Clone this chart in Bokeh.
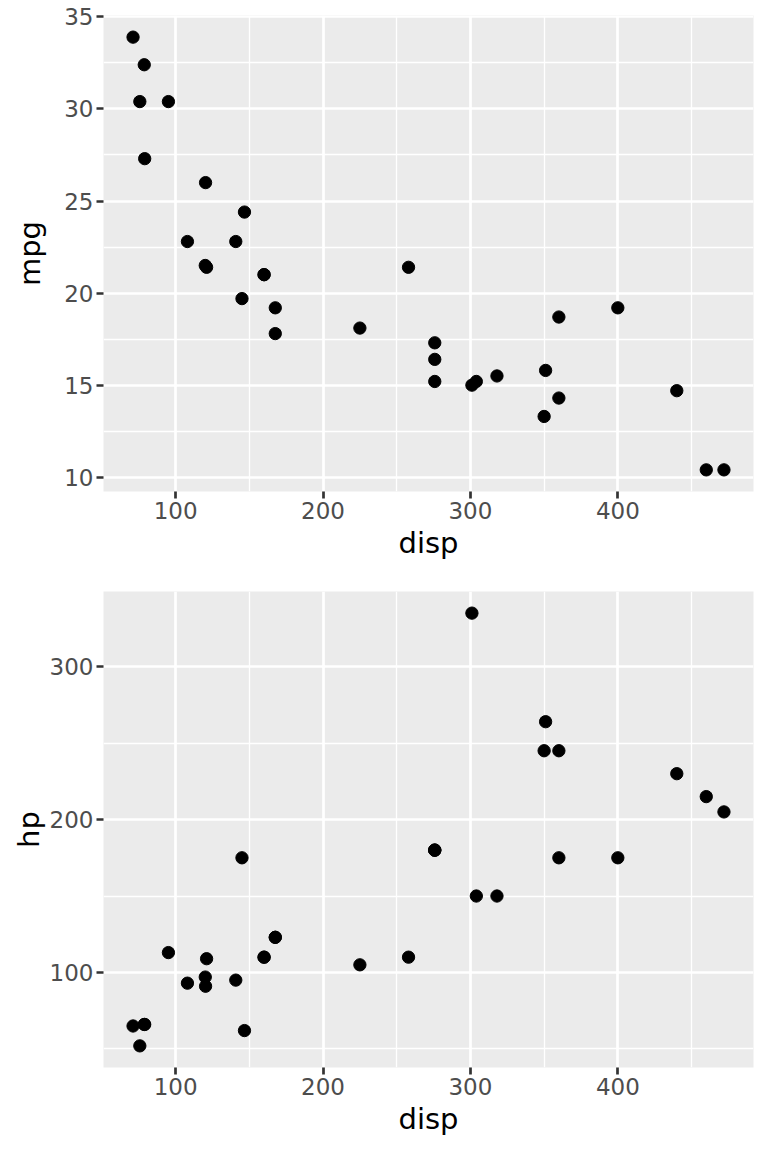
from bokeh.plotting import figure
from bokeh.layouts import column
from bokeh.models import Range1d, FixedTicker
from bokeh.embed import file_html
from bokeh.resources import INLINE

# mtcars columns
disp = [160, 160, 108, 258, 360, 225, 360, 146.7, 140.8, 167.6, 167.6, 275.8,
        275.8, 275.8, 472, 460, 440, 78.7, 75.7, 71.1, 120.1, 318, 304, 350,
        400, 79, 120.3, 95.1, 351, 145, 301, 121]
mpg = [21, 21, 22.8, 21.4, 18.7, 18.1, 14.3, 24.4, 22.8, 19.2, 17.8, 16.4,
       17.3, 15.2, 10.4, 10.4, 14.7, 32.4, 30.4, 33.9, 21.5, 15.5, 15.2, 13.3,
       19.2, 27.3, 26, 30.4, 15.8, 19.7, 15, 21.4]
hp = [110, 110, 93, 110, 175, 105, 245, 62, 95, 123, 123, 180, 180, 180, 205,
      215, 230, 66, 52, 65, 97, 150, 150, 245, 175, 66, 91, 113, 264, 175, 335,
      109]

x_ticks = [100, 200, 300, 400]
x_minor = [150, 250, 350, 450]
mpg_ticks = [10, 15, 20, 25, 30, 35]
mpg_minor = [12.5, 17.5, 22.5, 27.5, 32.5]
hp_ticks = [100, 200, 300]
hp_minor = [50, 150, 250]


def expand(vals, frac=0.05):
    lo, hi = min(vals), max(vals)
    pad = (hi - lo) * frac
    return Range1d(lo - pad, hi + pad)


def gg_panel(x, y, ylabel, yticks, yminor, height, top, bottom, ystandoff):
    p = figure(width=760, height=height, output_backend="svg",
               toolbar_location=None, x_range=expand(x), y_range=expand(y),
               min_border_left=103, min_border_right=7, min_border_top=top,
               min_border_bottom=bottom)
    p.background_fill_color = "#EBEBEB"
    p.border_fill_color = "white"
    p.outline_line_color = None

    p.xaxis.ticker = FixedTicker(ticks=x_ticks, minor_ticks=x_minor)
    p.yaxis.ticker = FixedTicker(ticks=yticks, minor_ticks=yminor)

    for g in (p.xgrid, p.ygrid):
        g.grid_line_color = "white"
        g.grid_line_width = 2.7
        g.minor_grid_line_color = "white"
        g.minor_grid_line_width = 1.35

    for ax in (p.xaxis, p.yaxis):
        ax.axis_line_color = None
        ax.major_tick_line_color = "#333333"
        ax.major_tick_line_width = 2.7
        ax.major_tick_out = 7
        ax.major_tick_in = 0
        ax.minor_tick_line_color = None
        ax.major_label_text_font = "DejaVu Sans"
        ax.major_label_text_font_size = "23px"
        ax.major_label_text_color = "#4D4D4D"
        ax.major_label_standoff = 3
        ax.axis_label_text_font = "DejaVu Sans"
        ax.axis_label_text_font_size = "29px"
        ax.axis_label_text_font_style = "normal"
        ax.axis_label_text_color = "black"

    p.xaxis.axis_label = "disp"
    p.xaxis.axis_label_standoff = 4
    p.yaxis.axis_label = ylabel
    p.yaxis.axis_label_standoff = ystandoff

    p.scatter(x, y, size=12.3, color="black")
    return p


top = gg_panel(disp, mpg, "mpg", mpg_ticks, mpg_minor, 584, 15, 93, 14)
bot = gg_panel(disp, hp, "hp", hp_ticks, hp_minor, 560, 7, 77, 1)

page = column(top, bot)
open("out.html", "w").write(file_html(page, INLINE))
